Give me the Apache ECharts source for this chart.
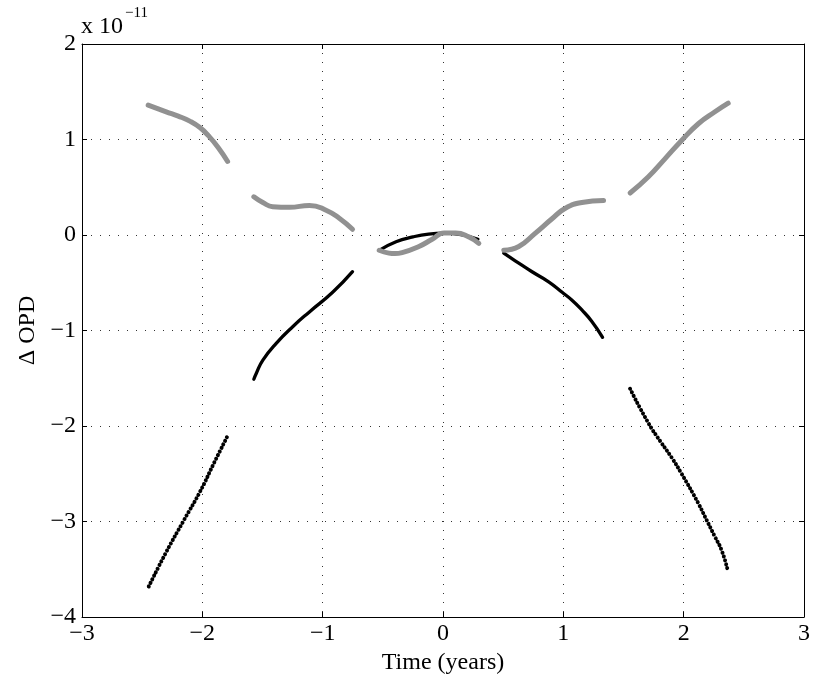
<!DOCTYPE html>
<html>
<head>
<meta charset="utf-8">
<script src="https://cdn.jsdelivr.net/npm/echarts@6/dist/echarts.min.js"></script>
<style>
  html, body { margin: 0; padding: 0; background: #ffffff; }
  #chart { width: 813px; height: 683px; }
</style>
</head>
<body>
<div id="chart"></div>
<script>
// Differential OPD over time, values in units of 1e-11.
// Each observing season is a separate run; '-' separates the runs.

const xTicks = [-3, -2, -1, 0, 1, 2, 3];
const yTicks = [-4, -3, -2, -1, 0, 1, 2];

// Grey track (time in years, ΔOPD / 1e-11)
const greyTime = [
  -2.45, -2.30, -2.20, -2.10, -2.02, -1.95, -1.87, -1.79, '-',
  -1.572, -1.497, -1.415, -1.276, -1.11, -0.972, -0.862, -0.752, '-',
  -0.53, -0.45, -0.40, -0.34, -0.20, -0.09, 0.01, 0.105, 0.215, 0.298, '-',
  0.505, 0.63, 0.768, 0.906, 1.017, 1.154, 1.334, '-',
  1.555, 1.707, 1.846, 1.983, 2.122, 2.26, 2.37
];
const greyOPD = [
  1.36, 1.29, 1.245, 1.19, 1.125, 1.04, 0.92, 0.77, '-',
  0.40, 0.34, 0.296, 0.29, 0.31, 0.26, 0.175, 0.06, '-',
  -0.16, -0.19, -0.195, -0.185, -0.12, -0.045, 0.02, 0.02, -0.02, -0.087, '-',
  -0.16, -0.12, 0.02, 0.17, 0.28, 0.34, 0.36, '-',
  0.44, 0.61, 0.80, 0.99, 1.165, 1.29, 1.38
];

// Black track
const blackTime = [
  -2.445, -2.30, -2.15, -2.02, -1.90, -1.793, '-',
  -1.572, -1.552, -1.497, -1.386, -1.249, -1.11, -0.917, -0.752, '-',
  -0.53, -0.39, -0.25, -0.12, 0.01, 0.16, 0.29, '-',
  0.505, 0.60, 0.74, 0.878, 0.99, 1.07, 1.154, 1.237, 1.326, '-',
  1.555, 1.707, 1.817, 1.90, 1.983, 2.122, 2.177, 2.26, 2.315, 2.364
];
const blackOPD = [
  -3.68, -3.32, -2.98, -2.69, -2.38, -2.11, '-',
  -1.51, -1.45, -1.31, -1.134, -0.96, -0.805, -0.60, -0.384, '-',
  -0.16, -0.07, -0.02, 0.01, 0.02, 0.0, -0.045, '-',
  -0.19, -0.27, -0.385, -0.49, -0.60, -0.68, -0.785, -0.905, -1.071, '-',
  -1.61, -1.97, -2.18, -2.33, -2.50, -2.81, -2.95, -3.16, -3.30, -3.50
];

// Steep black runs show their individual samples as beads
const blackBeaded = [true, false, false, false, true];

function runs(ts, vs) {
  const out = [];
  let cur = [];
  ts.forEach((t, i) => {
    if (t === '-') { out.push(cur); cur = []; }
    else cur.push([t, vs[i]]);
  });
  out.push(cur);
  return out;
}

const serif = 'Liberation Serif, Times New Roman, serif';
const minus = v => String(v).replace('-', '\u2212');

const chart = echarts.init(document.getElementById('chart'), null, { renderer: 'canvas' });

const gridLine = { show: true, lineStyle: { color: '#333', width: 1, type: [1, 8] } };
const tickIn = { show: true, inside: true, length: 5, lineStyle: { color: '#000', width: 1 } };
const boxLine = { show: true, onZero: false, lineStyle: { color: '#000', width: 1 } };

const series = [];
runs(blackTime, blackOPD).forEach((run, k) => {
  series.push({
    type: 'line', data: run,
    smooth: 0.5, showSymbol: false,
    lineStyle: blackBeaded[k]
      ? { color: '#000', width: 4, cap: 'round', join: 'round', type: [0.01, 4] }
      : { color: '#000', width: 3.3, cap: 'round', join: 'round' },
    z: 2
  });
});
runs(greyTime, greyOPD).forEach(run => {
  series.push({
    type: 'line', data: run,
    smooth: 0.5, showSymbol: false,
    lineStyle: { color: '#919191', width: 5, cap: 'round', join: 'round' },
    z: 3
  });
});

chart.setOption({
  animation: false,
  backgroundColor: '#ffffff',
  grid: { left: 82, top: 44, width: 724, height: 573 },
  xAxis: [
    {
      type: 'value', min: -3, max: 3, interval: 1, position: 'bottom',
      axisLine: boxLine, axisTick: tickIn, splitLine: gridLine,
      axisLabel: { color: '#000', fontFamily: serif, fontSize: 24, margin: 5,
        formatter: v => (xTicks.includes(v) ? minus(v) : '') },
      name: 'Time (years)', nameLocation: 'middle', nameGap: 31,
      nameTextStyle: { color: '#000', fontFamily: serif, fontSize: 24 }
    },
    {
      type: 'value', min: -3, max: 3, interval: 1, position: 'top',
      axisLine: boxLine, axisTick: tickIn, splitLine: { show: false },
      axisLabel: { show: false }
    }
  ],
  yAxis: [
    {
      type: 'value', min: -4, max: 2, interval: 1, position: 'left',
      axisLine: boxLine, axisTick: tickIn, splitLine: gridLine,
      axisLabel: { color: '#000', fontFamily: serif, fontSize: 24, margin: 6,
        formatter: v => (yTicks.includes(v) ? minus(v) : '') },
      name: '\u0394 OPD', nameLocation: 'middle', nameGap: 42, nameRotate: 90,
      nameTextStyle: { color: '#000', fontFamily: serif, fontSize: 24 }
    },
    {
      type: 'value', min: -4, max: 2, interval: 1, position: 'right',
      axisLine: boxLine, axisTick: tickIn, splitLine: { show: false },
      axisLabel: { show: false }
    }
  ],
  graphic: [
    { type: 'text', left: 81, top: 15,
      style: { text: 'x 10', font: '24px ' + serif, fill: '#000' } },
    { type: 'text', left: 125, top: 6,
      style: { text: '\u221211', font: '15px ' + serif, fill: '#000' } }
  ],
  series: series
});
</script>
</body>
</html>
